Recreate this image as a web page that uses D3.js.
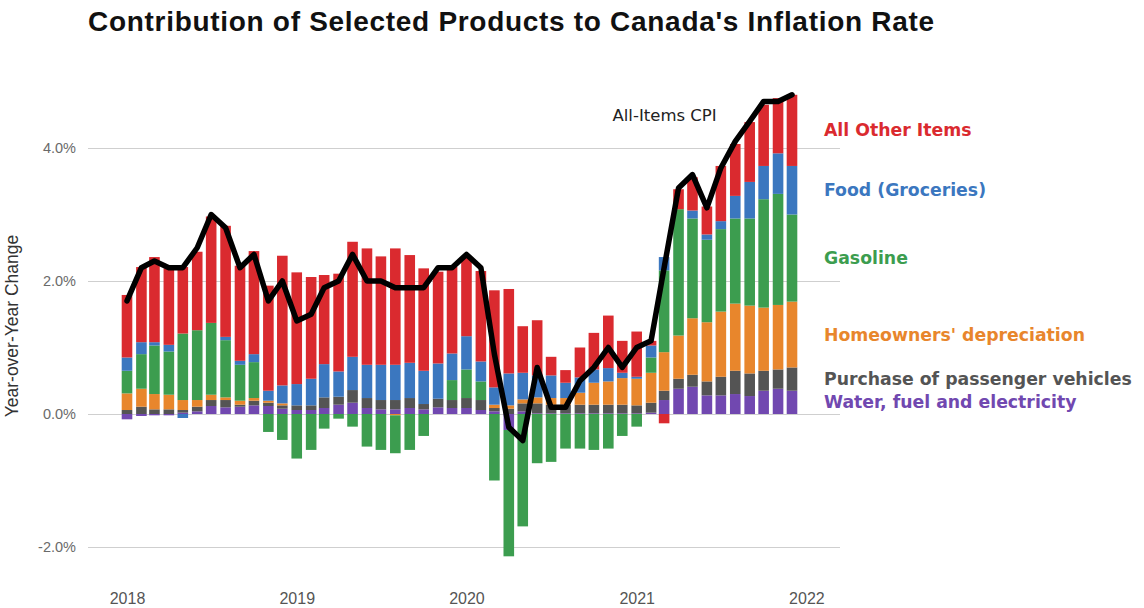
<!DOCTYPE html>
<html>
<head>
<meta charset="utf-8">
<script src="https://cdn.jsdelivr.net/npm/d3@7"></script>
<style>
  body { margin: 0; background: #ffffff; }
  svg { display: block; }
</style>
</head>
<body>
<svg id="chart" width="1144" height="608"></svg>
<script>
// Monthly contributions (percentage points) to the year-over-year CPI change, Jan 2018 – Dec 2021
const monthStarts = d3.range(48).map(i => new Date(2018, i, 1));

const water = [
  -0.08, -0.03, -0.02, -0.02, 0.02, 0.04, 0.12, 0.10, 0.11, 0.13, 0.12, 0.08,
   0.06,  0.06,  0.09,  0.14, 0.17, 0.09, 0.07, 0.07, 0.09, 0.07, 0.10, 0.09,
   0.09,  0.06,  0.04, -0.24, 0.04, 0.01, 0.01, 0.01, 0.01, 0.01, 0.01, 0.01,
   0.01,  0.02,  0.21,  0.38, 0.41, 0.28, 0.28, 0.30, 0.27, 0.35, 0.38, 0.35
];
const vehicles = [
  0.06, 0.11, 0.07, 0.07, 0.04, 0.07, 0.09, 0.11, 0.03, 0.07, 0.05, 0.05,
  0.07, 0.07, 0.16, 0.12, 0.19, 0.15, 0.14, 0.14, 0.15, 0.08, 0.13, 0.12,
  0.15, 0.15, 0.05, 0.08, 0.12, 0.15, 0.13, 0.13, 0.13, 0.13, 0.13, 0.13,
  0.12, 0.15, 0.14, 0.15, 0.18, 0.21, 0.28, 0.35, 0.34, 0.30, 0.29, 0.35
];
const homeowners = [
  0.25, 0.27, 0.23, 0.22, 0.15, 0.10, 0.08, 0.04, 0.06, 0.04, 0.03, 0.03,
  0.00, 0.00, 0.00, 0.00, 0.00, 0.00, 0.00, -0.02, 0.00, 0.00, 0.00, 0.00,
  0.00, 0.00, 0.05, 0.05, 0.06, 0.09, 0.10, 0.10, 0.18, 0.33, 0.35, 0.40,
  0.40, 0.45, 0.58, 0.65, 0.85, 0.89, 0.98, 1.01, 1.02, 0.95, 0.97, 0.99
];
const gasoline = [
   0.34,  0.52,  0.73,  0.65,  1.00,  1.05,  1.08,  0.86,  0.54,  0.54, -0.27, -0.39,
  -0.67, -0.54, -0.22, -0.07, -0.19, -0.49, -0.54, -0.57, -0.54, -0.33,  0.00,  0.30,
   0.43,  0.28, -1.00, -1.90, -1.69, -0.74, -0.72, -0.52, -0.52, -0.54, -0.52, -0.33,
  -0.19,  0.23,  1.23,  1.90,  1.50,  1.24,  1.24,  1.28,  1.31,  1.63,  1.67,  1.31
];
const food = [
  0.20, 0.18, 0.05, 0.10, -0.06, 0.00, 0.00, 0.05, 0.06, 0.12, 0.15, 0.27,
  0.32, 0.40, 0.50, 0.38,  0.50, 0.50, 0.53, 0.53, 0.53, 0.50, 0.53, 0.40,
  0.50, 0.30, 0.26, 0.48,  0.40, 0.33, 0.34, 0.23, 0.23, 0.20, 0.20, 0.08,
  0.03, 0.18, 0.20, 0.00,  0.12, 0.08, 0.12, 0.34, 0.55, 0.50, 0.61, 0.73
];
const otherItems = [
  0.94, 1.13,  1.28, 1.15, 1.00, 1.18, 1.60, 1.67, 1.43, 1.55, 1.58, 1.95,
  1.68, 1.53,  1.34, 1.47, 1.73, 1.75, 1.63, 1.75, 1.62, 1.54, 1.38, 1.30,
  1.18, 1.36,  1.46, 1.27, 0.70, 0.83, 0.28, 0.19, 0.45, 0.55, 0.79, 0.48,
  0.68, 0.07, -0.14, 0.30, 0.50, 0.42, 0.83, 0.78, 0.90, 0.92, 0.83, 1.07
];
// All-items CPI, year-over-year % change
const cpi = [
  1.7, 2.2, 2.3, 2.2, 2.2, 2.5, 3.0, 2.8, 2.2, 2.4, 1.7, 2.0,
  1.4, 1.5, 1.9, 2.0, 2.4, 2.0, 2.0, 1.9, 1.9, 1.9, 2.2, 2.2,
  2.4, 2.2, 0.9, -0.2, -0.4, 0.7, 0.1, 0.1, 0.5, 0.7, 1.0, 0.7,
  1.0, 1.1, 2.2, 3.4, 3.6, 3.1, 3.7, 4.1, 4.4, 4.7, 4.7, 4.8
];

const seriesKeys   = ["water", "vehicles", "homeowners", "gasoline", "food", "otherItems"];
const seriesLabels = ["Water, fuel and electricity", "Purchase of passenger vehicles",
                      "Homeowners' depreciation", "Gasoline", "Food (Groceries)", "All Other Items"];
const seriesColors = ["#7148b0", "#545454", "#e8862c", "#3c9d4f", "#3b77bf", "#da2a2f"];
const yTicks = [-2, 0, 2, 4];
const yearTicks = [2018, 2019, 2020, 2021, 2022];

const seriesValues = { water, vehicles, homeowners, gasoline, food, otherItems };
const rows = monthStarts.map((date, i) => {
  const row = { date, cpi: cpi[i] };
  seriesKeys.forEach(k => { row[k] = seriesValues[k][i]; });
  return row;
});

const svg = d3.select("#chart");
const plotLeft = 88, plotRight = 840;

const x = d3.scaleTime()
  .domain([new Date(2018, 0, 1), new Date(2021, 11, 1)])
  .range([127, 792]);
const y = d3.scaleLinear().domain([-2, 4]).range([547, 148]);
const color = d3.scaleOrdinal().domain(seriesKeys).range(seriesColors);
const barWidth = 10.6;

// Title
svg.append("text")
  .attr("x", 88).attr("y", 31)
  .attr("font-family", "Liberation Sans, Arial, sans-serif")
  .attr("font-weight", "bold")
  .attr("font-size", 28)
  .attr("letter-spacing", 0.7)
  .attr("fill", "#111")
  .text("Contribution of Selected Products to Canada's Inflation Rate");

// Horizontal gridlines and y tick labels
const yAxis = d3.axisLeft(y)
  .tickValues(yTicks)
  .tickSize(-(plotRight - plotLeft))
  .tickPadding(12)
  .tickFormat(d => d.toFixed(1) + "%");
const gy = svg.append("g").attr("transform", `translate(${plotLeft},0)`).call(yAxis);
gy.select(".domain").remove();
gy.selectAll(".tick line").attr("stroke", "#cfcfcf").attr("stroke-width", 1);
gy.selectAll(".tick text")
  .attr("font-family", "Liberation Sans, Arial, sans-serif")
  .attr("font-size", 14.5)
  .attr("fill", "#6a6a6a");

// Y axis title
svg.append("text")
  .attr("transform", `translate(18,326) rotate(-90)`)
  .attr("text-anchor", "middle")
  .attr("font-family", "Liberation Sans, Arial, sans-serif")
  .attr("font-size", 17.5)
  .attr("fill", "#333")
  .text("Year-over-Year Change");

// X axis year labels
const xAxis = d3.axisBottom(x)
  .tickValues(yearTicks.map(yr => new Date(yr, 0, 1)))
  .tickSize(0)
  .tickPadding(0)
  .tickFormat(d3.timeFormat("%Y"));
const gx = svg.append("g").attr("transform", "translate(0,593)").call(xAxis);
gx.select(".domain").remove();
gx.selectAll(".tick text")
  .attr("font-family", "Liberation Sans, Arial, sans-serif")
  .attr("font-size", 16)
  .attr("fill", "#555");

// Stacked contribution bars (positives stack up, negatives stack down)
const stacked = d3.stack().keys(seriesKeys).offset(d3.stackOffsetDiverging)(rows);
svg.append("g")
  .selectAll("g")
  .data(stacked)
  .join("g")
  .attr("fill", d => color(d.key))
  .selectAll("rect")
  .data(d => d)
  .join("rect")
  .attr("x", d => x(d.data.date) - barWidth / 2)
  .attr("width", barWidth)
  .attr("y", d => y(Math.max(d[0], d[1])))
  .attr("height", d => Math.abs(y(d[0]) - y(d[1])));

// All-items CPI line
const line = d3.line().x(d => x(d.date)).y(d => y(d.cpi)).curve(d3.curveLinear);
svg.append("path")
  .datum(rows)
  .attr("fill", "none")
  .attr("stroke", "#000")
  .attr("stroke-width", 5.5)
  .attr("stroke-linejoin", "round")
  .attr("stroke-linecap", "round")
  .attr("d", line);

svg.append("text")
  .attr("x", x(new Date(2020, 10, 10)))
  .attr("y", y(4.4))
  .attr("font-family", "DejaVu Sans, Verdana, sans-serif")
  .attr("font-size", 16.5)
  .attr("fill", "#222")
  .text("All-Items CPI");

// Direct labels beside the last bar, centred on each segment
const last = rows.length - 1;
svg.append("g")
  .selectAll("text")
  .data(stacked)
  .join("text")
  .attr("x", 824)
  .attr("y", d => y((d[last][0] + d[last][1]) / 2))
  .attr("dy", "0.35em")
  .attr("font-family", "DejaVu Sans, Verdana, sans-serif")
  .attr("font-size", 17.3)
  .attr("font-weight", "bold")
  .attr("fill", d => color(d.key))
  .text((d, i) => seriesLabels[i]);
</script>
</body>
</html>
